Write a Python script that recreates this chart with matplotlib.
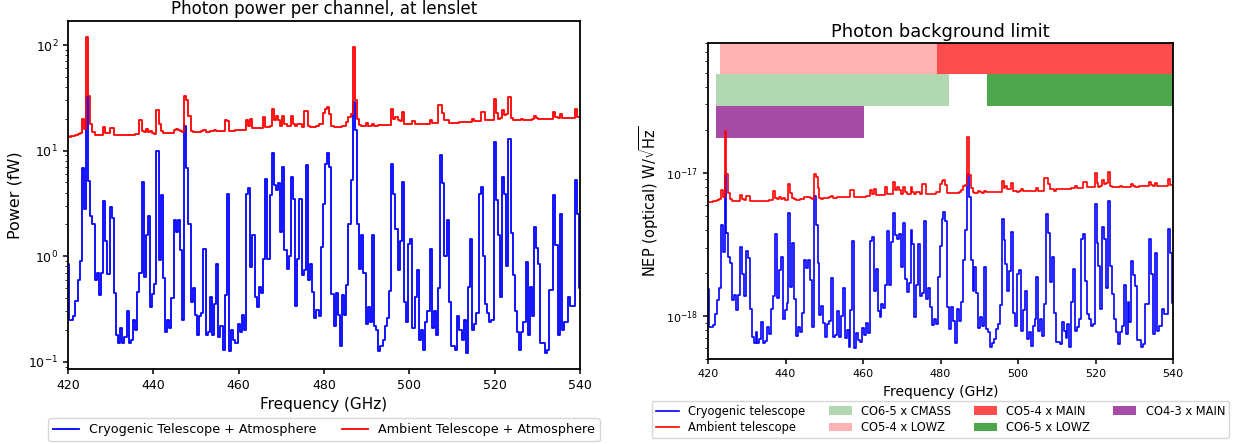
import numpy as np
import matplotlib
matplotlib.use('Agg')
import matplotlib.pyplot as plt

# channel centres (GHz), 0.5 GHz spacing
freq = np.arange(420, 540.5, 0.5)

# photon power at lenslet (fW)
power_cryo = [
    0.85, 0.25, 0.25, 0.27, 0.38, 0.6, 0.9, 6.8, 2.8, 32,
    5.2, 2.4, 2.0, 0.6, 0.7, 0.43, 0.7, 3.3, 1.4, 0.68,
    2.9, 2.3, 0.45, 0.18, 0.15, 0.21, 0.15, 0.17, 0.3, 0.15,
    0.16, 0.25, 0.2, 0.46, 0.69, 5.0, 0.64, 1.6, 2.4, 0.33,
    0.44, 0.55, 10, 0.92, 3.8, 0.62, 0.19, 0.25, 0.21, 0.4,
    2.2, 1.7, 2.2, 1.15, 0.25, 17, 6.8, 2.0, 0.37, 0.5,
    0.28, 0.18, 0.27, 0.29, 1.18, 0.18, 0.19, 0.41, 0.18, 0.35,
    0.85, 0.17, 0.22, 0.13, 0.43, 3.9, 0.125, 0.2, 0.16, 0.15,
    0.23, 0.19, 0.28, 0.2, 3.9, 4.4, 0.79, 1.6, 0.41, 0.33,
    0.51, 0.45, 0.95, 5.4, 0.95, 3.8, 9.5, 4.7, 4.2, 4.9,
    1.7, 7.0, 1.14, 0.75, 1.0, 5.6, 3.5, 0.34, 0.95, 3.5,
    0.66, 0.74, 7.3, 0.6, 0.85, 0.46, 0.26, 0.31, 0.27, 1.22,
    3.15, 7.5, 9.4, 7.0, 0.44, 0.22, 0.45, 0.28, 0.14, 0.43,
    0.28, 0.53, 2.0, 5.3, 29, 15.6, 2.0, 0.76, 1.6, 0.7,
    0.23, 0.33, 0.24, 1.6, 0.22, 0.2, 0.125, 0.14, 0.16, 0.22,
    0.26, 0.47, 7.5, 3.9, 1.8, 0.74, 1.4, 5.0, 0.37, 0.24,
    1.3, 1.47, 0.21, 0.41, 0.74, 0.16, 0.2, 0.13, 0.24, 0.3,
    1.18, 0.21, 0.3, 0.18, 0.5, 9.0, 4.9, 1.0, 2.2, 0.37,
    0.14, 0.14, 0.13, 0.27, 0.2, 0.16, 0.25, 0.12, 0.51, 1.47,
    0.2, 0.23, 0.29, 3.9, 4.5, 1.0, 0.35, 0.29, 0.24, 0.25,
    12, 3.4, 1.6, 0.41, 5.6, 3.9, 0.8, 13, 1.64, 0.66,
    0.3, 0.19, 0.13, 0.19, 0.24, 0.88, 0.18, 0.51, 0.27, 1.9,
    1.2, 0.85, 0.15, 0.15, 0.12, 0.13, 0.48, 0.48, 3.8, 1.27,
    0.18, 2.5, 0.2, 0.24, 0.24, 0.41, 0.34, 0.34, 5.3, 2.5,
    0.5]

power_ambient = [
    13.7, 13.6, 13.7, 13.8, 14.0, 14.3, 14.8, 20, 16, 120,
    33, 18, 15, 14.2, 14.0, 14.1, 14.2, 16.8, 14.8, 14.6,
    16.5, 16.5, 14.2, 14.0, 14.0, 14.0, 14.0, 14.1, 14.1, 14.1,
    14.2, 14.2, 14.3, 14.5, 19.5, 15.5, 15, 16, 15, 15.2,
    14.6, 14.5, 24.5, 18, 15.2, 14.8, 14.6, 14.6, 14.7, 14.8,
    15.8, 16.0, 15.8, 15.2, 15.0, 33, 30, 21.5, 15.3, 15.1,
    15.0, 15.0, 15.1, 15.5, 15.8, 15.1, 15.1, 15.2, 15.2, 15.6,
    15.3, 15.3, 15.3, 15.4, 19.5, 19.2, 15.5, 15.5, 15.5, 15.6,
    15.6, 15.6, 15.7, 15.8, 19.5, 17, 20, 16.5, 16.2, 16.2,
    16.3, 16.4, 21, 16.8, 16.8, 17, 25, 19.5, 21.5, 19.5,
    17, 21.5, 18, 17, 17, 21.5, 18, 17, 18, 18,
    16.8, 23.5, 23.5, 17, 16.7, 16.7, 16.8, 17, 18, 18,
    22.5, 25, 26, 22, 17, 16.8, 16.8, 16.8, 16.9, 17,
    17.2, 18.5, 21, 22, 95, 30, 20, 17.5, 17, 17.1,
    18.2, 17.2, 17.1, 18, 17.2, 17.2, 17.3, 17.3, 17.3, 17.3,
    17.4, 17.6, 25, 20, 21, 19.5, 19, 23, 18, 17.8,
    17.7, 17.8, 19, 17.8, 17.8, 17.8, 17.9, 17.9, 17.9, 18,
    19.7, 18.1, 18.1, 18.2, 27, 27, 22.5, 19.5, 19.3, 18.3,
    18.3, 18.3, 18.4, 18.4, 18.5, 18.5, 18.6, 18.6, 18.7, 18.8,
    20, 18.9, 19, 19.1, 23, 23, 19.3, 19.3, 19.4, 19.5,
    31, 22.5, 19.8, 20.5, 24.5, 21.6, 22, 32, 20.5, 19.7,
    19.5, 19.5, 19.6, 20, 19.6, 19.6, 19.7, 19.7, 19.8, 21.3,
    20.5, 19.9, 19.9, 20, 20, 20, 20.1, 20.1, 23.3, 21,
    20.2, 22.2, 20.3, 20.3, 20.4, 20.4, 20.5, 20.5, 25, 21,
    20.6]

# optical NEP, in units of 1e-18 W/sqrt(Hz)
nep_cryo = [
    1.54, 0.835, 0.835, 0.87, 1.03, 1.29, 1.58, 4.35, 2.79, 9.6,
    3.81, 2.59, 2.36, 1.29, 1.40, 1.10, 1.40, 3.03, 1.98, 1.38,
    2.84, 2.53, 1.12, 0.71, 0.65, 0.77, 0.65, 0.69, 0.91, 0.65,
    0.67, 0.835, 0.75, 1.13, 1.39, 3.73, 1.34, 2.11, 2.59, 0.96,
    1.11, 1.24, 5.28, 1.60, 3.26, 1.31, 0.73, 0.835, 0.77, 1.06,
    2.48, 2.18, 2.48, 1.79, 0.835, 6.89, 4.35, 2.36, 1.02, 1.18,
    0.90, 0.72, 0.88, 0.92, 1.85, 0.72, 0.74, 1.09, 0.72, 1.01,
    1.57, 0.70, 0.80, 0.61, 1.11, 3.36, 0.60, 0.76, 0.68, 0.66,
    0.82, 0.74, 0.90, 0.76, 3.36, 3.57, 1.51, 2.15, 1.09, 0.98,
    1.21, 1.14, 1.66, 3.95, 1.66, 3.31, 5.24, 3.69, 3.48, 3.76,
    2.22, 4.50, 1.82, 1.47, 1.70, 4.02, 3.18, 0.99, 1.66, 3.18,
    1.38, 1.46, 4.59, 1.32, 1.57, 1.15, 0.87, 0.95, 0.88, 1.88,
    3.07, 4.74, 5.30, 4.58, 1.15, 0.81, 1.16, 0.92, 0.65, 1.13,
    0.92, 1.26, 2.45, 3.98, 9.8, 6.83, 2.45, 1.51, 2.19, 1.45,
    0.83, 0.99, 0.85, 2.19, 0.81, 0.77, 0.61, 0.65, 0.69, 0.81,
    0.88, 1.19, 4.74, 3.42, 2.32, 1.49, 2.05, 3.87, 1.05, 0.85,
    1.97, 2.10, 0.79, 1.11, 1.49, 0.69, 0.77, 0.62, 0.85, 0.95,
    1.88, 0.79, 0.95, 0.73, 1.22, 5.19, 3.83, 1.73, 2.57, 1.05,
    0.66, 0.66, 0.64, 0.91, 0.79, 0.70, 0.88, 0.61, 1.26, 2.13,
    0.79, 0.84, 0.95, 3.48, 3.73, 1.76, 1.04, 0.95, 0.86, 0.88,
    6.10, 3.25, 2.23, 1.13, 4.16, 3.48, 1.57, 6.35, 2.25, 1.43,
    0.95, 0.77, 0.64, 0.77, 0.86, 1.65, 0.75, 1.26, 0.91, 2.43,
    1.93, 1.62, 0.68, 0.68, 0.61, 0.64, 1.22, 1.22, 3.43, 1.98,
    0.75, 2.78, 0.79, 0.86, 0.86, 1.13, 1.03, 1.03, 4.05, 2.78,
    1.24]

nep_ambient = [
    6.29, 6.27, 6.29, 6.32, 6.36, 6.43, 6.54, 7.60, 6.80, 19.5,
    9.77, 7.21, 6.58, 6.41, 6.36, 6.38, 6.41, 6.97, 6.54, 6.50,
    6.91, 6.91, 6.41, 6.36, 6.36, 6.36, 6.36, 6.38, 6.38, 6.38,
    6.41, 6.41, 6.43, 6.47, 7.51, 6.69, 6.58, 6.80, 6.58, 6.63,
    6.50, 6.47, 8.41, 7.21, 6.63, 6.54, 6.50, 6.50, 6.52, 6.54,
    6.76, 6.80, 6.76, 6.63, 6.58, 9.77, 9.31, 7.88, 6.65, 6.61,
    6.70, 6.70, 6.72, 6.81, 6.88, 6.72, 6.72, 6.75, 6.75, 6.83,
    6.77, 6.77, 6.77, 6.79, 7.64, 7.58, 6.81, 6.81, 6.81, 6.83,
    6.83, 6.83, 6.85, 6.88, 7.64, 7.13, 7.74, 7.03, 6.96, 6.96,
    6.98, 7.01, 7.93, 7.09, 7.09, 7.13, 8.65, 7.64, 8.02, 7.64,
    7.13, 8.02, 7.34, 7.13, 7.13, 8.02, 7.34, 7.13, 7.34, 7.34,
    7.09, 8.39, 8.39, 7.13, 7.07, 7.07, 7.09, 7.13, 7.34, 7.34,
    8.35, 8.80, 8.97, 8.25, 7.26, 7.21, 7.21, 7.21, 7.24, 7.26,
    7.30, 7.57, 8.07, 8.25, 17.8, 9.64, 7.87, 7.36, 7.26, 7.28,
    7.51, 7.30, 7.28, 7.47, 7.30, 7.30, 7.32, 7.32, 7.32, 7.32,
    7.34, 7.38, 8.80, 7.87, 8.07, 7.77, 7.67, 8.44, 7.47, 7.43,
    7.40, 7.43, 7.67, 7.43, 7.43, 7.43, 7.45, 7.45, 7.45, 7.47,
    7.81, 7.49, 7.49, 7.51, 9.15, 9.15, 8.35, 7.77, 7.73, 7.53,
    7.70, 7.70, 7.72, 7.72, 7.74, 7.74, 7.76, 7.76, 7.78, 7.80,
    8.05, 7.83, 7.85, 7.87, 8.63, 8.63, 7.91, 7.91, 7.93, 7.95,
    10.0, 8.54, 8.01, 8.15, 8.91, 8.37, 8.44, 10.2, 8.15, 7.99,
    7.95, 7.95, 7.97, 8.05, 7.97, 7.97, 7.99, 7.99, 8.01, 8.31,
    8.15, 8.03, 8.03, 8.05, 8.05, 8.05, 8.07, 8.07, 8.69, 8.25,
    8.09, 8.48, 8.11, 8.11, 8.13, 8.13, 8.15, 8.15, 9.00, 8.25,
    8.17]

# cross-correlation bands (GHz) and the row they sit in
band_labels = ['CO6-5 x CMASS', 'CO5-4 x LOWZ', 'CO5-4 x MAIN', 'CO6-5 x LOWZ', 'CO4-3 x MAIN']
band_lo = [422, 423, 479, 492, 422]
band_hi = [482.3, 479, 540, 540, 460.3]
band_row = [1, 0, 0, 1, 2]
band_color = ['green', 'red', 'red', 'green', 'purple']
band_alpha = [0.3, 0.3, 0.7, 0.7, 0.7]

fig = plt.figure(figsize=(12.4, 4.44), dpi=100)

# Left: photon power
ax1 = fig.add_axes([0.0548, 0.1689, 0.4129, 0.7838])
ax1.plot(freq, power_cryo, drawstyle='steps-mid', color='#0000ff', lw=1.3,
         label='Cryogenic Telescope + Atmosphere')
ax1.plot(freq, power_ambient, drawstyle='steps-mid', color='#ff0000', lw=1.3,
         label='Ambient Telescope + Atmosphere')
ax1.set_yscale('log')
ax1.set_xlim(420, 540)
ax1.set_ylim(0.0853, 169)
ax1.set_xticks(range(420, 541, 20))
ax1.tick_params(labelsize=9, width=1.1)
ax1.set_title('Photon power per channel, at lenslet', fontsize=12, pad=5)
ax1.set_xlabel('Frequency (GHz)', fontsize=11)
ax1.set_ylabel('Power (fW)', fontsize=11.5)
ax1.legend(loc='upper center', bbox_to_anchor=(0.5, -0.123), ncol=2, fontsize=9.2)

# Right: NEP with survey bands
ax2 = fig.add_axes([0.571, 0.1908, 0.375, 0.7131])
for i in range(len(band_labels)):
    r = band_row[i]
    ax2.axvspan(band_lo[i], band_hi[i], ymin=0.9 - 0.1 * r, ymax=1.0 - 0.1 * r,
                color=band_color[i], alpha=band_alpha[i], lw=0, label=band_labels[i])
ax2.plot(freq, np.array(nep_cryo) * 1e-18, drawstyle='steps-mid', color='#0000ff', lw=1.2,
         label='Cryogenic telescope')
ax2.plot(freq, np.array(nep_ambient) * 1e-18, drawstyle='steps-mid', color='#ff0000', lw=1.2,
         label='Ambient telescope')
ax2.set_yscale('log')
ax2.set_xlim(420, 540)
ax2.set_ylim(5e-19, 8.1e-17)
ax2.set_xticks(range(420, 541, 20))
ax2.tick_params(labelsize=8, width=1.1)
ax2.set_title('Photon background limit', fontsize=12.9, pad=4)
ax2.set_xlabel('Frequency (GHz)', fontsize=10)
ax2.set_ylabel(r'NEP (optical) W/$\sqrt{\mathrm{Hz}}$', fontsize=10.5)

for ax in (ax1, ax2):
    for s in ax.spines.values():
        s.set_linewidth(1.3)
        s.set_color('black')

handles, labels = ax2.get_legend_handles_labels()
order = [5, 6, 0, 1, 2, 3, 4]
ax2.legend([handles[i] for i in order], [labels[i] for i in order],
           loc='upper center', bbox_to_anchor=(0.5, -0.112), ncol=4, fontsize=8.3,
           labelspacing=0.3, borderpad=0.35)

fig.savefig('out.png', dpi=100)
